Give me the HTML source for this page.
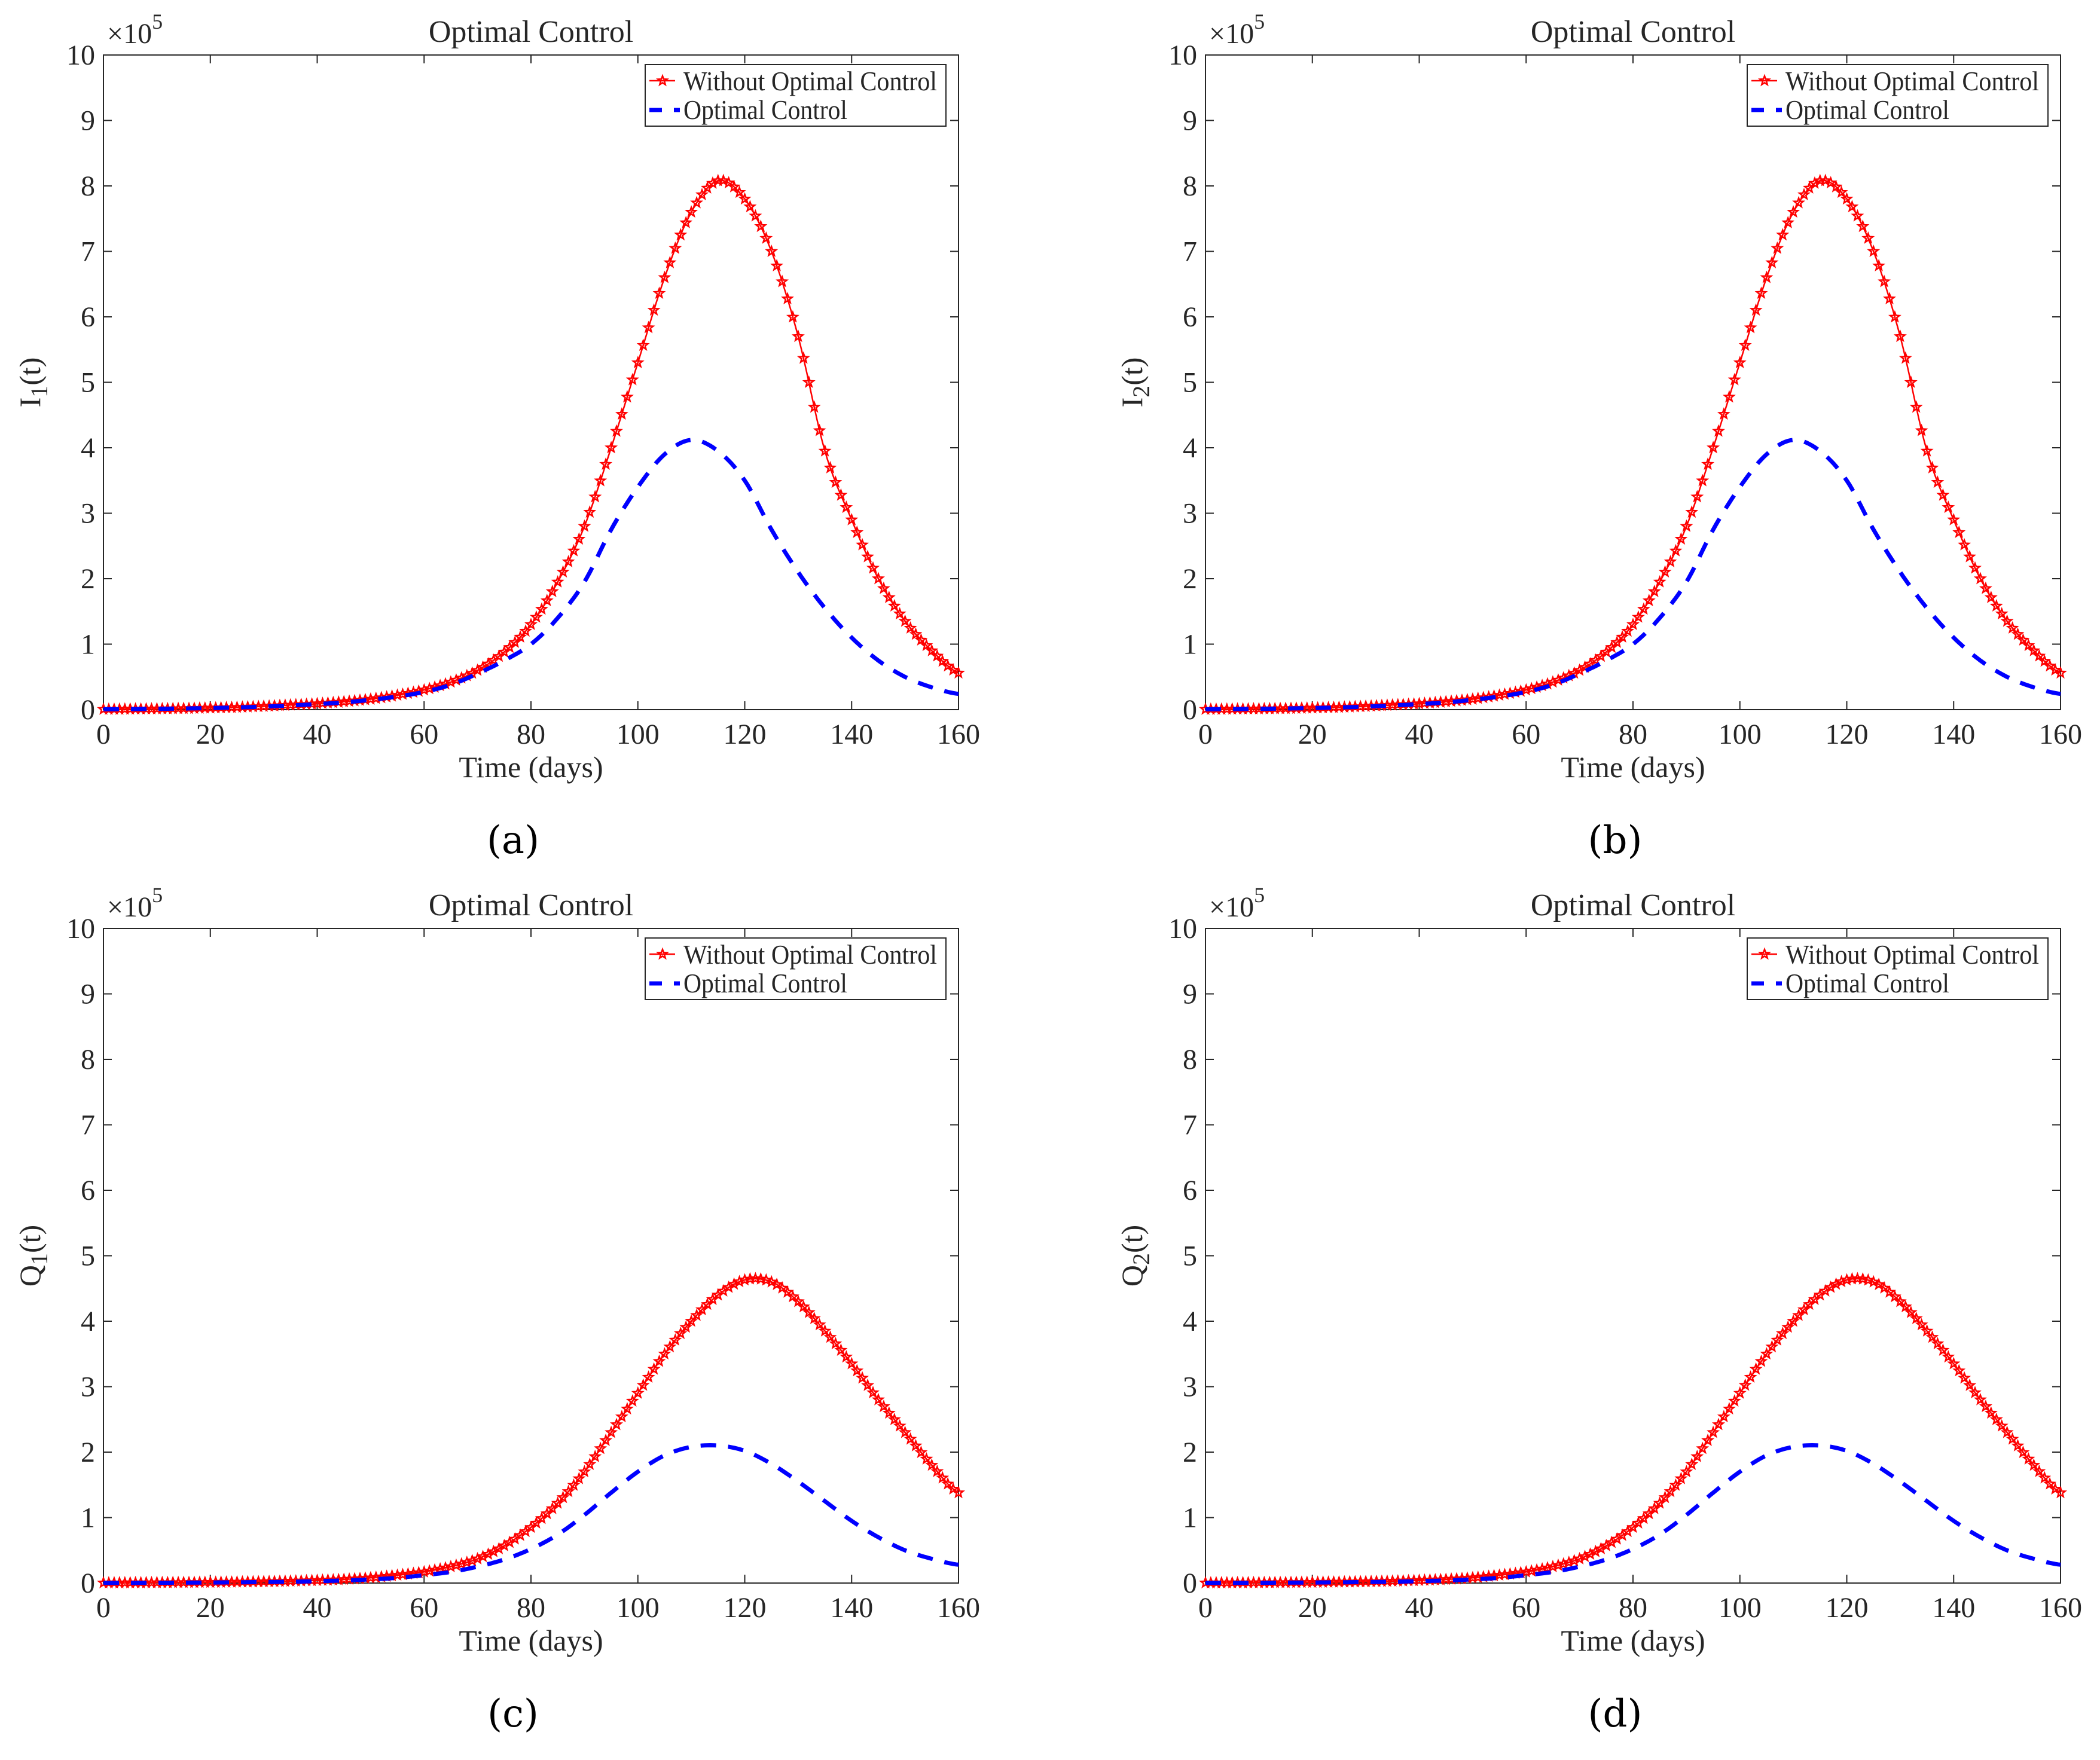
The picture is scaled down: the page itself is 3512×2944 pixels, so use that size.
<!DOCTYPE html>
<html><head><meta charset="utf-8">
<style>
html,body{margin:0;padding:0;background:#fff;}
svg{display:block;}
text{font-family:"Liberation Serif",serif;fill:#262626;}
</style></head>
<body>
<svg id="fig" width="3512" height="2944" viewBox="0 0 3512 2944" xmlns="http://www.w3.org/2000/svg"></svg>
<script>
// Data (values in units of 10^5), sampled every 5 days from 0 to 160
const days = [0,5,10,15,20,25,30,35,40,45,50,55,60,65,70,75,80,85,90,95,100,105,110,115,120,125,130,135,140,145,150,155,160];
const iWithout = [0.005,0.008,0.012,0.017,0.025,0.035,0.05,0.07,0.09,0.12,0.16,0.22,0.3,0.42,0.6,0.88,1.3,1.95,2.8,4.0,5.3,6.6,7.6,8.08,7.8,7.0,5.7,3.95,2.9,2.0,1.35,0.9,0.56];
const iOptimal = [0.005,0.008,0.012,0.017,0.024,0.033,0.046,0.063,0.085,0.11,0.15,0.2,0.27,0.38,0.55,0.75,1.0,1.4,1.95,2.75,3.4,3.9,4.12,3.95,3.5,2.75,2.1,1.55,1.1,0.75,0.5,0.34,0.24];
const qWithout = [0.003,0.004,0.006,0.008,0.011,0.015,0.021,0.029,0.04,0.055,0.08,0.12,0.17,0.25,0.37,0.57,0.85,1.22,1.7,2.3,2.9,3.5,4.0,4.4,4.63,4.6,4.3,3.85,3.35,2.8,2.3,1.8,1.38];
const qOptimal = [0.002,0.003,0.004,0.006,0.008,0.011,0.015,0.02,0.028,0.04,0.056,0.08,0.12,0.17,0.25,0.36,0.52,0.74,1.04,1.38,1.7,1.95,2.08,2.1,2.02,1.82,1.55,1.25,0.95,0.7,0.5,0.37,0.28];
const xTicks = [0,20,40,60,80,100,120,140,160];
const yTicks = [0,1,2,3,4,5,6,7,8,9,10];
const panelLetters = ["(a)","(b)","(c)","(d)"];
const yLabelMain = ["I","I","Q","Q"];
const yLabelSub = ["1","2","1","2"];

const NS = "http://www.w3.org/2000/svg";
const svg = document.getElementById("fig");
function el(tag, attrs, parent){
  const e = document.createElementNS(NS, tag);
  for (const k in attrs) e.setAttribute(k, attrs[k]);
  (parent||svg).appendChild(e);
  return e;
}
function spline(vals, t){
  const h = 5;
  let i = Math.min(Math.floor(t/h), vals.length-2);
  const u = (t - i*h)/h;
  const p0 = vals[Math.max(i-1,0)], p1 = vals[i], p2 = vals[i+1], p3 = vals[Math.min(i+2, vals.length-1)];
  const m1 = (p2-p0)/2, m2 = (p3-p1)/2;
  const u2=u*u, u3=u2*u;
  return (2*u3-3*u2+1)*p1 + (u3-2*u2+u)*m1 + (-2*u3+3*u2)*p2 + (u3-u2)*m2;
}
function starPath(cx, cy, R){
  const r = R*0.42; let d="";
  for(let k=0;k<10;k++){
    const a = -Math.PI/2 + k*Math.PI/5;
    const rr = k%2===0?R:r;
    d += (k===0?"M":"L") + (cx+rr*Math.cos(a)).toFixed(1)+","+(cy+rr*Math.sin(a)).toFixed(1);
  }
  return d+"Z";
}

const panels = [
  {L:173,R:1603,T:92,B:1187,red:iWithout,blue:iOptimal},
  {L:2016,R:3446,T:92,B:1187,red:iWithout,blue:iOptimal},
  {L:173,R:1603,T:1553,B:2648,red:qWithout,blue:qOptimal},
  {L:2016,R:3446,T:1553,B:2648,red:qWithout,blue:qOptimal}
];

panels.forEach((p, idx) => {
  const g = el("g", {});
  
  
  const xs = t => p.L + (t-0)/160*(p.R-p.L);
  const ys = v => p.B - v/10*(p.B-p.T);
  const cx = (p.L+p.R)/2;

  const box = el("rect", {x:p.L, y:p.T, width:p.R-p.L, height:p.B-p.T, fill:"none", stroke:"#262626", "stroke-width":2}, g);
  
  

  xTicks.forEach(t => {
    const x = xs(t);
    el("line",{x1:x,y1:p.B,x2:x,y2:p.B-14,stroke:"#262626","stroke-width":2},g);
    el("line",{x1:x,y1:p.T,x2:x,y2:p.T+14,stroke:"#262626","stroke-width":2},g);
    const tx = el("text",{x:x,y:p.B+57,"font-size":48,"text-anchor":"middle"},g);
    tx.textContent = t;
    
    
  });
  yTicks.forEach(v => {
    const y = ys(v);
    el("line",{x1:p.L,y1:y,x2:p.L+14,y2:y,stroke:"#262626","stroke-width":2},g);
    el("line",{x1:p.R,y1:y,x2:p.R-14,y2:y,stroke:"#262626","stroke-width":2},g);
    const ty = el("text",{x:p.L-14,y:y+16,"font-size":48,"text-anchor":"end"},g);
    ty.textContent = v;
    
    
  });
  const ex = el("text",{x:p.L+6,y:p.T-20,"font-size":48},g);
  
  
  ex.innerHTML = '×10<tspan dy="-24" font-size="36">5</tspan>';

  const ti = el("text",{x:cx,y:p.T-22,"font-size":52,"text-anchor":"middle",fill:"#000"},g);
  ti.textContent = "Optimal Control";
  
  

  const xl = el("text",{x:cx,y:p.B+113,"font-size":50,"text-anchor":"middle"},g);
  xl.textContent = "Time (days)";
  
  

  const yc = (p.T+p.B)/2;
  const yl = el("text",{x:0,y:0,"font-size":50,"text-anchor":"middle",transform:`translate(${p.L-106},${yc}) rotate(-90)`},g);
  yl.innerHTML = yLabelMain[idx]+'<tspan dy="12" font-size="40">'+yLabelSub[idx]+'</tspan><tspan dy="-12">(t)</tspan>';
  
  

  const pl = el("text",{x:cx-30,y:p.B+240,"font-size":64,"text-anchor":"middle",style:'font-family:"DejaVu Serif","Liberation Serif",serif;fill:#000'},g);
  pl.textContent = panelLetters[idx];
  
  

  let d = "";
  for (let t=0; t<=160; t+=0.5){ d += (t===0?"M":"L")+xs(t).toFixed(1)+","+ys(spline(p.red,t)).toFixed(1); }
  const rl = el("path",{d:d,fill:"none",stroke:"#ff0000","stroke-width":2.5},g);
  
  
  let md = "";
  for (let t=0; t<=160; t+=1){ md += starPath(xs(t), ys(spline(p.red,t)), 8); }
  const mk = el("path",{d:md,fill:"none",stroke:"#ff0000","stroke-width":2.5},g);
  
  

  let bd = "";
  for (let t=0; t<=160; t+=0.5){ bd += (t===0?"M":"L")+xs(t).toFixed(1)+","+ys(spline(p.blue,t)).toFixed(1); }
  const bl = el("path",{d:bd,fill:"none",stroke:"#0000ff","stroke-width":7,"stroke-dasharray":"26 20"},g);
  
  

  const lg = el("g",{},g);
  
  
  const lx = p.L + 906, ly = p.T + 16;
  el("rect",{x:lx,y:ly,width:503,height:103,fill:"#fff",stroke:"#262626","stroke-width":2},lg);
  el("line",{x1:lx+7,y1:ly+27,x2:lx+50,y2:ly+27,stroke:"#ff0000","stroke-width":2.5},lg);
  el("path",{d:starPath(lx+29,ly+27,8),fill:"none",stroke:"#ff0000","stroke-width":2.5},lg);
  const l1 = el("text",{x:lx+64,y:ly+43,"font-size":46,textLength:424,lengthAdjust:"spacingAndGlyphs",fill:"#000"},lg);
  l1.textContent = "Without Optimal Control";
  
  
  el("line",{x1:lx+7,y1:ly+76,x2:lx+58,y2:ly+76,stroke:"#0000ff","stroke-width":7,"stroke-dasharray":"21 20"},lg);
  const l2 = el("text",{x:lx+64,y:ly+91,"font-size":46,textLength:274,lengthAdjust:"spacingAndGlyphs",fill:"#000"},lg);
  l2.textContent = "Optimal Control";
  
  
});
</script>
</body></html>
